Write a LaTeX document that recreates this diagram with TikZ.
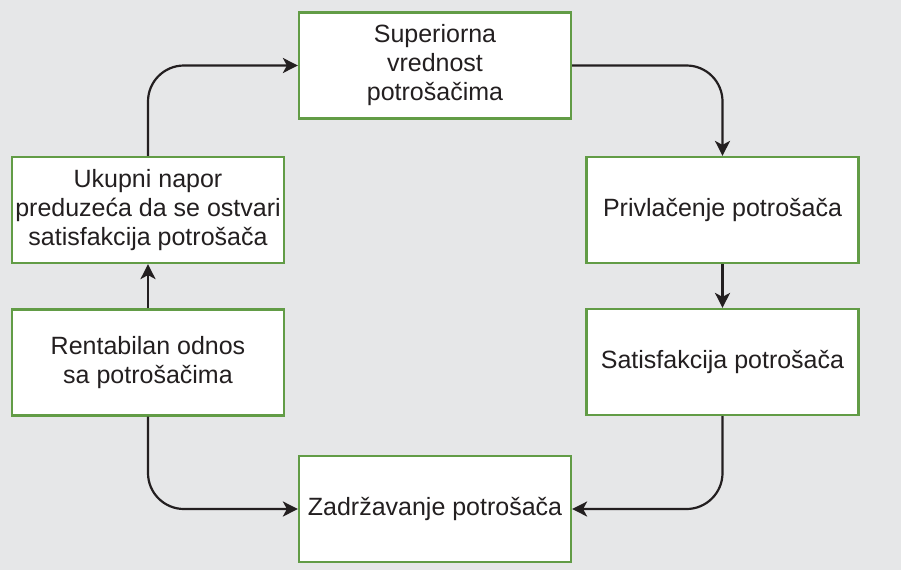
\documentclass[tikz,border=0pt]{standalone}
\usepackage{fontspec}
\setmainfont{Liberation Sans}
\usepackage{tikz}
\usetikzlibrary{arrows.meta}
\usetikzlibrary{backgrounds}
\definecolor{boxgreen}{RGB}{98,156,70}
\definecolor{bggray}{RGB}{230,231,232}
\definecolor{inkgray}{RGB}{35,31,32}
\newcommand{\boxwidth}{272pt}
\newcommand{\boxheight}{106pt}

\begin{document}
\begin{tikzpicture}[x=1pt,y=-1pt]
                \fill[bggray] (0,0) rectangle (901,570);
                \useasboundingbox (0,0) rectangle (901,570);

                \begin{scope}[every node/.style={rectangle,draw=boxgreen,line width=2.2pt,fill=white,
                    minimum width=\boxwidth,minimum height=\boxheight,align=center,inner sep=0pt,
                    text=inkgray,font=\fontsize{25}{29}\selectfont}]
                    \node (sup) at (435,65.5) {Superiorna\\vrednost\\potrošačima};
                    \node (priv) at (722.5,210) {Privlačenje potrošača};
                    \node (sat) at (722.5,362) {Satisfakcija potrošača};
                    \node (zad) at (435,509) {Zadržavanje potrošača};
                    \node (rent) at (148,362.5) {Rentabilan odnos\\sa potrošačima};
                    \node (uk) at (148,210) {Ukupni napor\\preduzeća da se ostvari\\satisfakcija potrošača};
                \end{scope}

                \begin{scope}[>={Stealth[inkgray,length=15pt,width=15pt,inset=4pt]},
                    every path/.style={draw=inkgray,line width=2.2pt,rounded corners=36pt}]
                    \draw [->] (uk.north) |- (sup.west);
                    \draw [->] (sup.east) -| (priv.north);
                    \path [->] (priv) edge (sat);
                    \draw [->] (sat.south) |- (zad.east);
                    \draw [->] (rent.south) |- (zad.west);
                    \path [->] (rent) edge (uk);
                \end{scope}
            \end{tikzpicture}
\end{document}
